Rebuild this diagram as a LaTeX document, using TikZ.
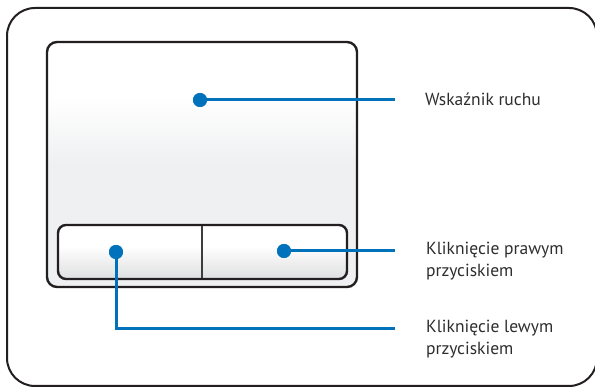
\documentclass[tikz,border=0pt]{standalone}
\usepackage{fontspec}
\setmainfont{PT Sans}
\definecolor{bluel}{RGB}{0,114,188}
\definecolor{padgray}{RGB}{239,240,241}
\definecolor{btngray}{RGB}{222,223,224}
\definecolor{txt}{RGB}{45,45,45}
\definecolor{frame}{RGB}{35,31,32}
\pgfdeclareverticalshading{padshade}{100bp}{color(0bp)=(padgray); color(50bp)=(padgray); color(64bp)=(white); color(100bp)=(white)}
\pgfdeclareverticalshading{btnshade}{100bp}{color(0bp)=(btngray); color(25bp)=(btngray); color(56bp)=(white); color(100bp)=(white)}
\tikzset{
  frameline/.style={draw=frame, line width=2.4pt},
  dot/.style={circle, fill=bluel, inner sep=0pt, minimum size=14pt},
  conn/.style={draw=bluel, line width=3pt},
  lbl/.style={anchor=west, text=txt, font=\fontsize{17.5}{22}\selectfont, align=left, inner sep=0pt}
}
\begin{document}
\begin{tikzpicture}[x=1pt, y=-1pt]
\useasboundingbox (0,0) rectangle (595,387);
\begin{scope}
\clip (0,0) rectangle (595,387);
\draw[frameline, line width=2pt, rounded corners=28pt] (7,8) rectangle (597,386);
\end{scope}
% pad
\draw[frameline, rounded corners=10pt, shading=padshade] (47,42) rectangle (357,287);
% buttons
\draw[frameline, rounded corners=8pt, shading=btnshade] (58,225) rectangle (347,279);
\draw[draw=frame!70!gray, line width=2pt] (202,226) -- (202,278);
% connectors
\node[dot] (d1) at (200,100) {};
\node[dot] (d2) at (284,251) {};
\node[dot] (d3) at (116,252) {};
\coordinate (e1) at (395,100);
\coordinate (e2) at (395,251);
\coordinate (e3) at (395,329);
\draw[conn] (d1.center) -- (e1);
\draw[conn] (d2.center) -- (e2);
\draw[conn] (d3.center) |- (e3);
\node[dot] at (d1) {};
\node[dot] at (d2) {};
\node[dot] at (d3) {};
% labels
\node[lbl] (t1) at (425,99) {Wskaźnik ruchu};
\node[lbl] (t2) at (426,261) {Kliknięcie prawym\\przyciskiem};
\node[lbl] (t3) at (426,339) {Kliknięcie lewym\\przyciskiem};
\end{tikzpicture}
\end{document}
